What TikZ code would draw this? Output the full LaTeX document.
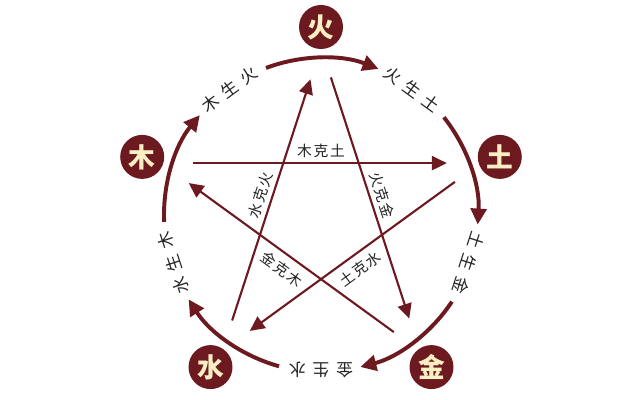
\documentclass[tikz,border=0pt]{standalone}
\usepackage{fontspec}
\newfontfamily\cjk{Noto Sans CJK SC}
\newfontfamily\cjkwide[LetterSpace=40]{Noto Sans CJK SC}
\newfontfamily\cjkmid[LetterSpace=12]{Noto Sans CJK SC}
\usetikzlibrary{calc, positioning}
\usetikzlibrary{arrows.meta}
\definecolor{maroon}{RGB}{108,26,32}
\definecolor{cream}{RGB}{250,238,195}
\definecolor{ink}{RGB}{35,35,35}

\begin{document}
\begin{tikzpicture}
\def\Re{4.7}
\def\Rs{4.2}
\def\Ra{3.925}
\def\Rl{3.88}
\tikzset{elem/.style={circle, fill=maroon, text=cream, minimum size=11mm, inner sep=0pt, font=\cjk\bfseries\fontsize{19}{19}\selectfont}}
\tikzset{ke/.style={draw=maroon, line width=1.5pt, -{Triangle[length=3.7mm, width=3.5mm]}, shorten <=8mm, shorten >=8.5mm}}
\tikzset{sheng/.style={draw=maroon, line width=2.8pt, -{Triangle[length=4mm, width=3.9mm]}}}
\tikzset{kelabel/.style={sloped, pos=0.5, text=ink, inner sep=2pt, font=\cjkmid\fontsize{10.5}{11}\selectfont}}
\tikzset{shlabel/.style={text=ink, inner sep=0pt, font=\cjkwide\fontsize{12}{12}\selectfont}}

\useasboundingbox (-8.025,-4.625) rectangle (7.975,5.375);

% star corners
\coordinate (sHuo) at (90:\Rs);
\coordinate (sTu) at (18:\Rs);
\coordinate (sJin) at (-54:\Rs);
\coordinate (sShui) at (-126:\Rs);
\coordinate (sMu) at (162:\Rs);

% the five elements
\node[elem] (huo) at (90:\Re) {火};
\node[elem] (tu) at (18:\Re) {土};
\node[elem] (jin) at (-54:\Re) {金};
\node[elem] (shui) at (-126:\Re) {水};
\node[elem] (mu) at (162:\Re) {木};

% ke (star)
\draw[ke] (sMu) -- (sTu) node[kelabel, above=1pt] (muKeTu) {木克土};
\draw[ke] (sHuo) -- (sJin) node[kelabel, above=1pt] (huoKeJin) {火克金};
\draw[ke] (sTu) -- (sShui) node[kelabel, below=3pt] (tuKeShui) {土克水};
\draw[ke] (sShui) -- (sHuo) node[kelabel, above=1pt] (shuiKeHuo) {水克火};
\draw[ke] (sJin) -- (sMu) node[kelabel, below=3pt] (jinKeMu) {金克木};

% sheng (outer ring)
\draw[sheng] (110.5:\Ra) arc[start angle=110.5, end angle=68.5, radius=\Ra];
\draw[sheng] (38.5:\Ra) arc[start angle=38.5, end angle=-3.5, radius=\Ra];
\draw[sheng] (-33.5:\Ra) arc[start angle=-33.5, end angle=-75.5, radius=\Ra];
\draw[sheng] (-105.5:\Ra) arc[start angle=-105.5, end angle=-147.5, radius=\Ra];
\draw[sheng] (182.5:\Ra) arc[start angle=182.5, end angle=140.5, radius=\Ra];

\node[shlabel, rotate=36] (muShengHuo) at (126:\Rl) {木生火};
\node[shlabel, rotate=-36] (huoShengTu) at (54:\Rl) {火生土};
\node[shlabel, rotate=-108] (tuShengJin) at (-18:\Rl) {土生金};
\node[shlabel, rotate=180] (jinShengShui) at (-90:\Rl) {金生水};
\node[shlabel, rotate=108] (shuiShengMu) at (198:\Rl) {水生木};
\end{tikzpicture}
\end{document}
